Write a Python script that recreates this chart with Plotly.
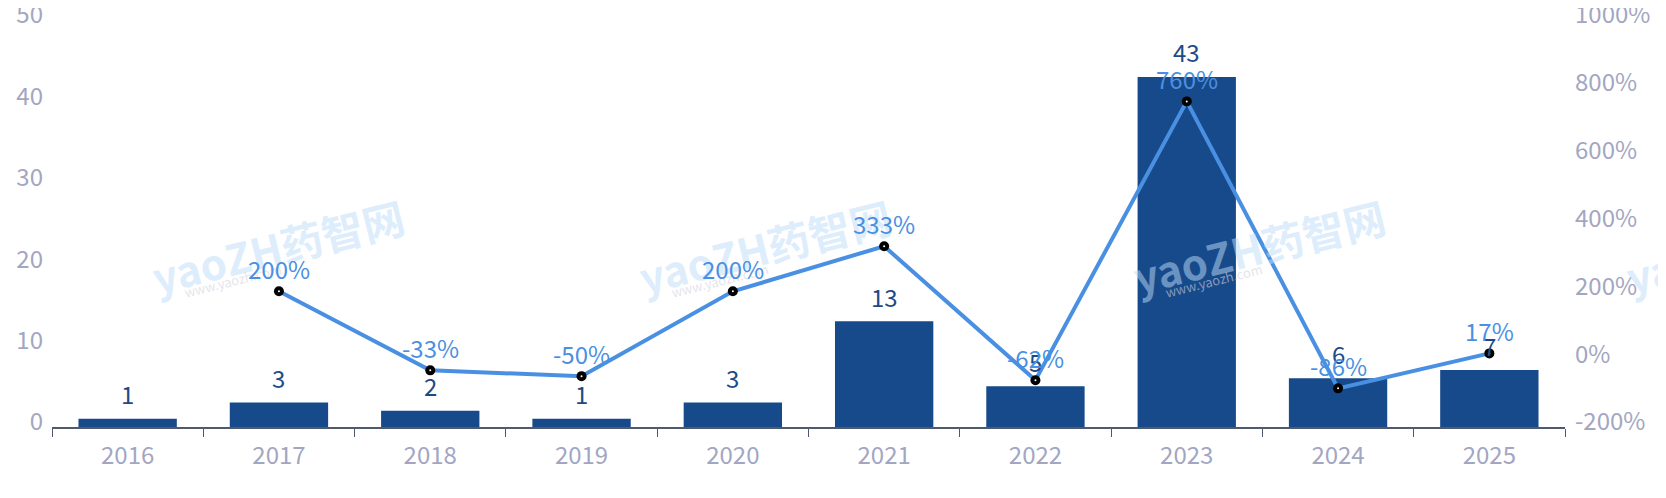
import plotly.graph_objects as go

years = ["2016", "2017", "2018", "2019", "2020", "2021", "2022", "2023", "2024", "2025"]
counts = [1, 3, 2, 1, 3, 13, 5, 43, 6, 7]
growth_years = ["2017", "2018", "2019", "2020", "2021", "2022", "2023", "2024", "2025"]
growth = [200, -33, -50, 200, 333, -62, 760, -86, 17]
left_ticks = [0, 10, 20, 30, 40, 50]
right_ticks = [-200, 0, 200, 400, 600, 800, 1000]

FONT = "Noto Sans CJK SC"
TICK_COLOR = "#a3a6c2"
BAR_COLOR = "#174a8a"
LINE_COLOR = "#4a90e2"
FS = 24

W, H = 1666, 498
ML, MR, MT, MB = 44, 109, 12, 79
OFF = 8  # page offset of the figure
PW, PH = W - ML - MR, H - MT - MB


def px_to_paper(px, py):
    return (px - OFF - ML) / PW, (H - MB - (py - OFF)) / PH


fig = go.Figure()
fig.add_trace(go.Bar(x=years, y=counts, marker=dict(color=BAR_COLOR, line=dict(width=0)),
                     yaxis="y", showlegend=False))
fig.add_trace(go.Scatter(x=growth_years, y=growth, mode="lines+markers", yaxis="y2",
                         line=dict(color=LINE_COLOR, width=4),
                         marker=dict(color="black", size=10, symbol="circle"),
                         showlegend=False))
fig.add_trace(go.Scatter(x=growth_years, y=growth, mode="markers", yaxis="y2",
                         marker=dict(color="white", size=2, symbol="circle"),
                         showlegend=False, hoverinfo="skip"))

annotations = []
# watermarks
for cx in [278, 765, 1259, 1752]:
    wx, wy = px_to_paper(cx, 245)
    annotations.append(dict(x=wx, y=wy, xref="paper", yref="paper",
                            xanchor="center", yanchor="middle", text="<b>yaoZH药智网</b>",
                            showarrow=False, textangle=-14,
                            font=dict(family=FONT, size=42, color="rgba(190,220,250,0.5)")))
    sx, sy = px_to_paper(cx - 46, 280)
    annotations.append(dict(x=sx, y=sy, xref="paper", yref="paper",
                            xanchor="center", yanchor="middle", text="www.yaozh.com",
                            showarrow=False, textangle=-14,
                            font=dict(family=FONT, size=13, color="rgba(210,210,220,0.6)")))

for x, v in zip(years, counts):
    annotations.append(dict(x=years.index(x), y=v, xref="x", yref="y", text=str(v), showarrow=False,
                            yanchor="middle", yshift=25,
                            font=dict(family=FONT, size=FS, color="#1d4a86")))
for x, v in zip(growth_years, growth):
    annotations.append(dict(x=years.index(x), y=v, xref="x", yref="y2", text=f"{v}%", showarrow=False,
                            yanchor="middle", yshift=23,
                            font=dict(family=FONT, size=FS, color=LINE_COLOR)))

fig.update_layout(
    width=W, height=H,
    margin=dict(l=ML, r=MR, t=MT, b=MB, autoexpand=False),
    paper_bgcolor="white", plot_bgcolor="white",
    bargap=0.35,
    font=dict(family=FONT, size=FS, color=TICK_COLOR),
    annotations=annotations,
    xaxis=dict(type="category", showgrid=False, showline=True, linecolor="#4f5a6e", linewidth=1.5,
               ticks="outside", tickson="boundaries", ticklen=8, tickcolor="#4f5a6e",
               tickangle=0, range=[-0.5, 9.5], ticklabelstandoff=6,
               tickfont=dict(family=FONT, size=FS, color=TICK_COLOR)),
    yaxis=dict(range=[0, 50], tickvals=left_ticks, ticktext=[str(t) for t in left_ticks],
               showgrid=False, zeroline=False, ticklabeloverflow="allow",
               ticklabelshift=-5, ticklabelstandoff=8,
               showline=False, ticks="", tickfont=dict(family=FONT, size=FS, color=TICK_COLOR)),
    yaxis2=dict(range=[-200, 1000], tickvals=right_ticks, ticktext=[f"{t}%" for t in right_ticks],
                overlaying="y", side="right", showgrid=False, zeroline=False, showline=False, ticks="",
                ticklabeloverflow="allow", ticklabelshift=-5, ticklabelstandoff=9,
                tickfont=dict(family=FONT, size=FS, color=TICK_COLOR)),
)

fig.write_html("out.html")
